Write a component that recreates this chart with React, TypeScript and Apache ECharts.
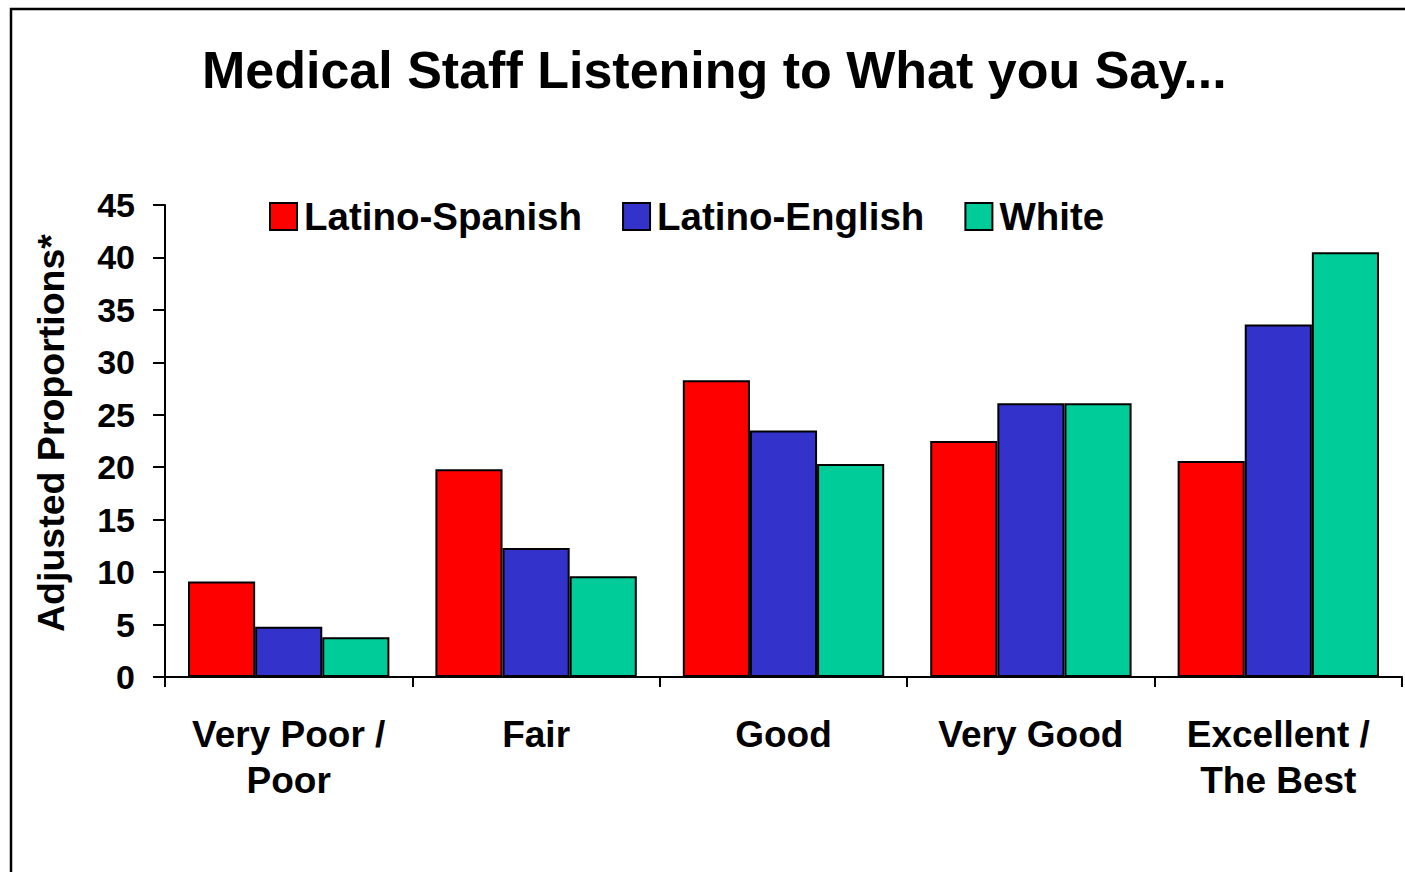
import React, { useEffect, useRef } from "react";
import * as echarts from "echarts";

const categories = ["Very Poor /\nPoor", "Fair", "Good", "Very Good", "Excellent /\nThe Best"];
const latinoSpanish = [9.1, 19.8, 28.3, 22.5, 20.6];
const latinoEnglish = [4.8, 12.3, 23.5, 26.1, 33.6];
const white = [3.8, 9.6, 20.3, 26.1, 40.5];
const seriesNames = ["Latino-Spanish", "Latino-English", "White"];
const seriesColors = ["#FF0000", "#3333CC", "#00CC99"];
const titleText = "Medical Staff Listening to What you Say...";
const yAxisName = "Adjusted Proportions*";

const FONT = "'Liberation Sans', Arial, Helvetica, sans-serif";

export default function App() {
  const ref = useRef<HTMLDivElement>(null);
  useEffect(() => {
    if (!ref.current) return;
    const chart = echarts.init(ref.current, null, { renderer: "svg" });
    const values = [latinoSpanish, latinoEnglish, white];
    chart.setOption({
      animation: false,
      backgroundColor: "#ffffff",
      title: {
        text: titleText,
        left: 197,
        top: 39,
        textStyle: { fontFamily: FONT, fontSize: 52, fontWeight: "bold", color: "#000" },
      },
      legend: {
        left: 264,
        top: 192,
        itemWidth: 27,
        itemHeight: 27,
        itemGap: 40,
        icon: "rect",
        itemStyle: { borderColor: "#000", borderWidth: 2 },
        textStyle: { fontFamily: FONT, fontSize: 38.5, fontWeight: "bold", color: "#000", padding: [0, 0, 0, 2] },
        data: seriesNames,
      },
      graphic: [
        {
          type: "rect",
          shape: { x: 11, y: 9, width: 1500, height: 1000 },
          style: { fill: "none", stroke: "#000", lineWidth: 2.5 },
          silent: true,
        },
        {
          type: "text",
          x: 51,
          y: 433,
          rotation: Math.PI / 2,
          style: {
            text: yAxisName,
            fontFamily: FONT,
            fontSize: 37.5,
            fontWeight: "bold",
            fill: "#000",
            align: "center",
            verticalAlign: "middle",
          },
          silent: true,
        },
      ],
      grid: { left: 165, right: 3, top: 205, bottom: 195 },
      xAxis: {
        type: "category",
        data: categories,
        axisLine: { lineStyle: { color: "#000", width: 2 } },
        axisTick: { show: true, length: 10, lineStyle: { color: "#000", width: 2 } },
        axisLabel: {
          margin: 34,
          fontFamily: FONT,
          fontSize: 37,
          fontWeight: "bold",
          color: "#000",
          lineHeight: 46,
          interval: 0,
        },
      },
      yAxis: {
        type: "value",
        min: 0,
        max: 45,
        interval: 5,
        axisLine: { show: true, lineStyle: { color: "#000", width: 2 } },
        axisTick: { show: true, length: 12, lineStyle: { color: "#000", width: 2 } },
        axisLabel: { margin: 30, fontFamily: FONT, fontSize: 34, fontWeight: "bold", color: "#000" },
        splitLine: { show: false },
      },
      series: seriesNames.map((name, i) => ({
        name,
        type: "bar",
        data: values[i],
        barGap: "0%",
        barCategoryGap: "18.6%",
        itemStyle: { color: seriesColors[i], borderColor: "#000", borderWidth: 2 },
      })),
    });
    return () => chart.dispose();
  }, []);
  return (
    <div
      ref={ref}
      style={{ position: "absolute", left: 0, top: 0, width: 1405, height: 872 }}
    />
  );
}
